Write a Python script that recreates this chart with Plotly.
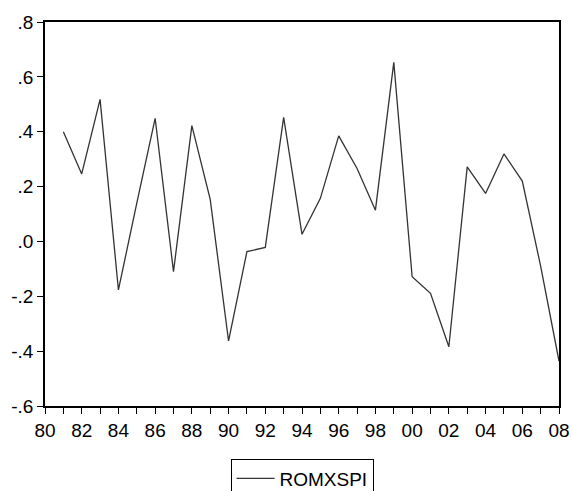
import plotly.graph_objects as go

years = list(range(1981, 2009))
romxspi = [0.40, 0.246, 0.518, -0.177, 0.14, 0.449, -0.11, 0.422, 0.153, -0.363,
           -0.037, -0.022, 0.452, 0.026, 0.157, 0.385, 0.266, 0.114, 0.653, -0.129,
           -0.189, -0.384, 0.272, 0.175, 0.319, 0.220, -0.09, -0.436]

x_tick_vals = list(range(1980, 2009, 2))
x_tick_text = ["80", "82", "84", "86", "88", "90", "92", "94", "96", "98",
               "00", "02", "04", "06", "08"]
y_tick_vals = [-0.6, -0.4, -0.2, 0.0, 0.2, 0.4, 0.6, 0.8]
y_tick_text = ["-.6", "-.4", "-.2", ".0", ".2", ".4", ".6", ".8"]

fig = go.Figure()
fig.add_trace(go.Scatter(x=years, y=romxspi, mode="lines", name="ROMXSPI",
                         line=dict(color="#333333", width=1.3)))

font = dict(family="Liberation Sans, Arial, sans-serif", size=19, color="black")

fig.update_layout(
    width=572, height=491,
    margin=dict(l=45, r=13, t=22, b=85),
    paper_bgcolor="white", plot_bgcolor="white",
    font=font,
    showlegend=True,
    legend=dict(orientation="h", xref="container", yref="container",
                x=0.528, xanchor="center", y=0.066, yanchor="top",
                bordercolor="black", borderwidth=1, font=font,
                itemwidth=38),
    xaxis=dict(range=[1980, 2008], tickvals=x_tick_vals, ticktext=x_tick_text,
               ticks="outside", ticklen=6, tickcolor="black", tickwidth=1,
               minor=dict(dtick=1, tick0=1980, ticks="outside", ticklen=6,
                          tickcolor="black", tickwidth=1, showgrid=False),
               showline=True, linecolor="black", linewidth=1.5, mirror=True,
               showgrid=False, zeroline=False, tickfont=font, automargin=False),
    yaxis=dict(range=[-0.6, 0.8], tickvals=y_tick_vals, ticktext=y_tick_text,
               ticks="outside", ticklen=6, tickcolor="black", tickwidth=1,
               showline=True, linecolor="black", linewidth=1.5, mirror=True,
               showgrid=False, zeroline=False, tickfont=font, automargin=False),
)

fig.write_html("out.html", config={"displayModeBar": False},
               post_script="document.body.style.margin='0';document.body.style.overflow='hidden';")
